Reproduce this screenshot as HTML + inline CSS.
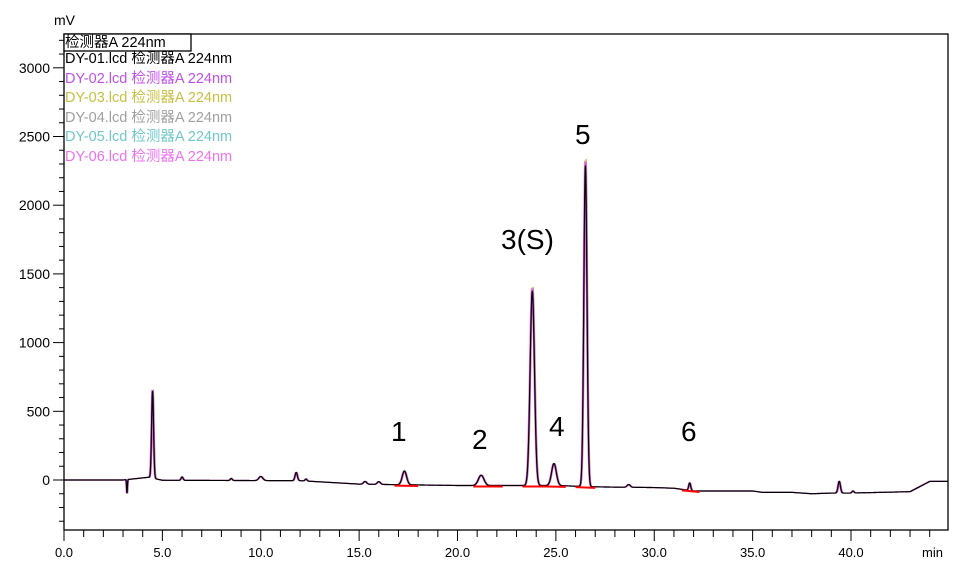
<!DOCTYPE html>
<html><head><meta charset="utf-8"><style>
body{margin:0;background:#fff;}
svg{display:block;font-family:"Liberation Sans","Noto Sans CJK SC",sans-serif;}
</style></head><body>
<svg id="s" width="974" height="578" xmlns="http://www.w3.org/2000/svg">
<rect x="0" y="0" width="974" height="578" fill="#fff"/>
<g id="ax"></g>
<g id="tr"></g>
<rect x="64" y="34" width="884" height="496" fill="none" stroke="#000" stroke-width="1.3"/>
<text x="54" y="25" font-size="14">mV</text>
<rect x="64" y="34" width="127" height="17" fill="#fff" stroke="#000" stroke-width="1.3"/>
<g font-size="14.5">
<text x="65" y="47" fill="#000">检测器A 224nm</text>
<text x="65" y="63" fill="#000">DY-01.lcd 检测器A 224nm</text>
<text x="65" y="83" fill="#c050f0">DY-02.lcd 检测器A 224nm</text>
<text x="65" y="102" fill="#c8c040">DY-03.lcd 检测器A 224nm</text>
<text x="65" y="122" fill="#a0a0a0">DY-04.lcd 检测器A 224nm</text>
<text x="65" y="141" fill="#70c8c8">DY-05.lcd 检测器A 224nm</text>
<text x="65" y="161" fill="#f070f0">DY-06.lcd 检测器A 224nm</text>
</g>
<g font-size="28" fill="#000">
<text x="391" y="441">1</text>
<text x="472" y="449">2</text>
<text x="501" y="249">3(S)</text>
<text x="549" y="436">4</text>
<text x="575" y="144">5</text>
<text x="681" y="441">6</text>
</g>
<text x="922" y="557" font-size="13">min</text>
</svg>
<script>
var ns="http://www.w3.org/2000/svg";
function X(t){return 64+t*19.675;}
function Y(v){return 480-v*0.1374;}
var ax=document.getElementById('ax'),tr=document.getElementById('tr');
function el(n,a,p,txt){var e=document.createElementNS(ns,n);for(var k in a)e.setAttribute(k,a[k]);if(txt)e.textContent=txt;(p||ax).appendChild(e);return e;}
for(var t=0;t<=44;t++){var x=X(t);el('line',{x1:x,x2:x,y1:530,y2:(t%5==0?541:537),stroke:'#000','stroke-width':1});
 if(t%5==0)el('text',{x:x,y:557,'font-size':13,'text-anchor':'middle'},ax,t.toFixed(1));}
for(var v=-300;v<=3200;v+=100){var y=Y(v);el('line',{x1:(v%500==0?53:59),x2:64,y1:y,y2:y,stroke:'#000','stroke-width':1});
 if(v%500==0&&v>=0)el('text',{x:50,y:y+5,'font-size':14,'text-anchor':'end'},ax,String(v));}
function base(t){
 var pts=[[0,0],[3,0],[4.3,20],[5,-2],[12,-5],[15,-30],[20,-40],[25,-40],[27,-50],[30,-55],[31,-60],[32,-80],[35,-80],[35.5,-90],[37,-90],[38,-100],[39,-95],[40,-95],[43,-85],[44,-10],[45,-10]];
 for(var i=0;i<pts.length-1;i++){if(t<=pts[i+1][0]){var a=pts[i],b=pts[i+1];return a[1]+(b[1]-a[1])*(t-a[0])/(b[0]-a[0]);}}return -10;}
var pk=[[4.5,640,0.05],[3.2,-100,0.02],[6,25,0.05],[8.5,15,0.05],[10,30,0.1],[11.8,60,0.06],[12.3,15,0.05],[15.3,20,0.08],[16,20,0.08],[17.3,100,0.11],[21.2,75,0.14],[23.8,1430,0.11],[24.9,160,0.12],[26.5,2360,0.08],[28.7,20,0.08],[31.8,55,0.05],[39.4,85,0.06],[40.1,15,0.05]];
function sig(t,sc){var v=base(t);for(var i=0;i<pk.length;i++){var p=pk[i];var h=p[1]*(p[1]>500?sc:1);v+=h*Math.exp(-Math.pow((t-p[0])/p[2],2)/2);}return v;}
function path(sc,dx){var d='';for(var t=0;t<=44.9;t+=0.01){d+=(d?'L':'M')+(X(t)+dx).toFixed(2)+','+Y(sig(t,sc)).toFixed(2);}return d;}
var cols=[['#c8c040',1.01,0.8],['#f070f0',1.005,-0.6],['#c050f0',1.0,0.5],['#000',0.99,0]];
cols.forEach(function(c){el('path',{d:path(c[1],c[2]),fill:'none',stroke:c[0],'stroke-width':1.2},tr);});
[[16.8,18.0],[20.8,22.3],[23.3,24.5],[24.5,25.5],[26.0,27.0],[31.4,32.3]].forEach(function(r){
 el('line',{x1:X(r[0]),x2:X(r[1]),y1:Y(base(r[0]))+1,y2:Y(base(r[1]))+1,stroke:'#f00','stroke-width':2},tr);});
</script>
</body></html>
